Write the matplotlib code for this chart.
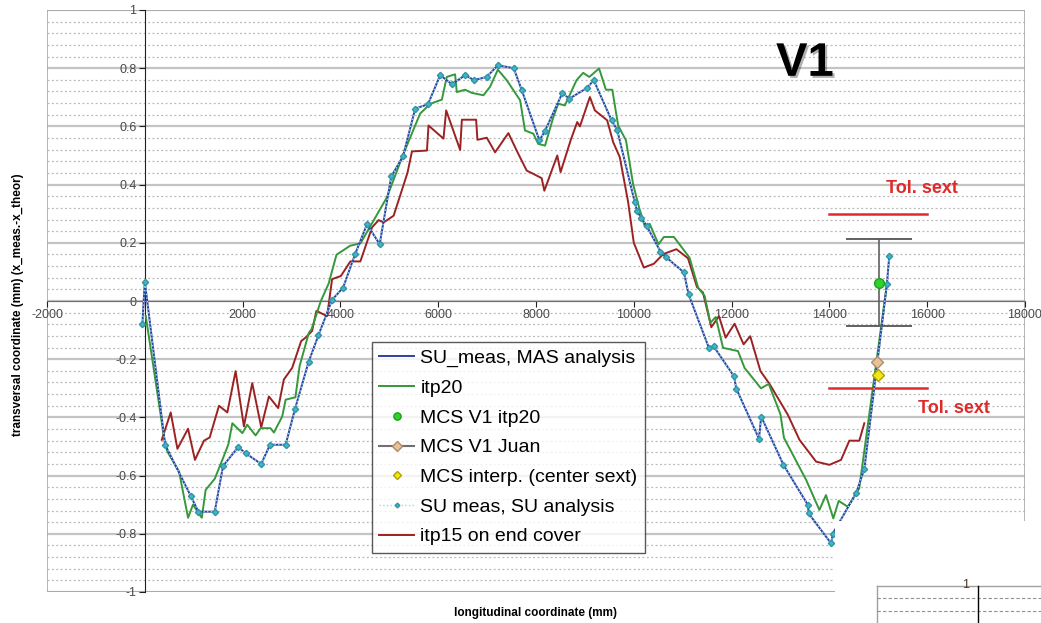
import matplotlib
matplotlib.use("Agg")
import matplotlib.pyplot as plt
import matplotlib.patches as mpatches
import matplotlib.lines as mlines
import matplotlib.patheffects as pe

plt.rcParams['font.family'] = ['Liberation Sans', 'DejaVu Sans']

# SU measurement (MAS analysis line + SU analysis markers share the points)
su_x = [-50, 0, 415, 940, 1095, 1430, 1600, 1910, 2060, 2380, 2560, 2880, 3070, 3350, 3550, 3830,
        4055, 4306, 4544, 4803, 5040, 5280, 5530, 5790, 6040, 6280, 6550, 6735, 6990, 7220, 7545,
        7710, 8070, 8180, 8540, 8680, 9050, 9180, 9545, 9660, 10020, 10070, 10155, 10260, 10545,
        10650, 11025, 11120, 11540, 11630, 12050, 12095, 12560, 12605, 13060, 13560, 13575, 14035,
        14070, 14545, 14715, 15175, 15225]
su_y = [-0.08, 0.067, -0.494, -0.67, -0.724, -0.724, -0.567, -0.502, -0.523, -0.56, -0.494, -0.494,
        -0.372, -0.209, -0.118, 0.004, 0.046, 0.163, 0.264, 0.195, 0.428, 0.497, 0.661, 0.676, 0.776,
        0.745, 0.776, 0.759, 0.77, 0.81, 0.80, 0.724, 0.552, 0.583, 0.715, 0.695, 0.733, 0.759, 0.621,
        0.588, 0.339, 0.308, 0.285, 0.259, 0.17, 0.152, 0.098, 0.023, -0.163, -0.155, -0.259, -0.301,
        -0.473, -0.397, -0.563, -0.701, -0.73, -0.833, -0.799, -0.661, -0.577, 0.057, 0.155]

# itp20
itp20_x = [20, 395, 460, 700, 885, 985, 1165, 1245, 1430, 1600, 1710, 1790, 1995, 2095, 2265, 2370,
           2570, 2640, 2810, 2880, 3080, 3165, 3355, 3410, 3600, 3760, 3920, 4200, 4410, 4950, 5290,
           5630, 5840, 6075, 6175, 6345, 6380, 6550, 6690, 6925, 7060, 7220, 7400, 7675, 7775, 7945,
           8045, 8185, 8355, 8455, 8590, 8830, 8965, 9090, 9290, 9430, 9560, 9680, 9840, 9985, 10110,
           10225, 10325, 10505, 10615, 10820, 11140, 11315, 11450, 11565, 11675, 11825, 12130, 12265,
           12600, 12760, 13000, 13070, 13525, 13795, 13930, 14080, 14190, 14375, 14610, 15175]
itp20_y = [-0.052, -0.47, -0.517, -0.586, -0.745, -0.70, -0.745, -0.649, -0.611, -0.54, -0.492, -0.42,
           -0.454, -0.425, -0.462, -0.437, -0.437, -0.452, -0.397, -0.339, -0.331, -0.224, -0.109,
           -0.097, 0.0, 0.06, 0.159, 0.19, 0.198, 0.356, 0.506, 0.644, 0.678, 0.692, 0.77, 0.779,
           0.718, 0.726, 0.715, 0.707, 0.736, 0.795, 0.759, 0.69, 0.586, 0.575, 0.54, 0.534, 0.632,
           0.678, 0.672, 0.759, 0.784, 0.77, 0.799, 0.726, 0.726, 0.603, 0.552, 0.402, 0.32, 0.256,
           0.265, 0.195, 0.22, 0.22, 0.149, 0.046, 0.017, -0.075, -0.055, -0.161, -0.172, -0.23,
           -0.30, -0.285, -0.39, -0.47, -0.615, -0.718, -0.667, -0.747, -0.687, -0.707, -0.644, 0.057]

# itp15 on end cover
itp15_x = [347, 530, 667, 884, 1026, 1210, 1327, 1517, 1688, 1857, 2027, 2197, 2381, 2537, 2728, 2843,
           3013, 3197, 3286, 3421, 3510, 3728, 3830, 4010, 4204, 4408, 4647, 4782, 4884, 5088, 5210,
           5374, 5463, 5770, 5802, 6108, 6163, 6449, 6484, 6776, 6802, 6994, 7163, 7435, 7605, 7810,
           7945, 8116, 8170, 8435, 8503, 8708, 8843, 8898, 9102, 9204, 9455, 9578, 9714, 9884, 10000,
           10204, 10410, 10600, 10871, 11108, 11292, 11415, 11585, 11741, 11878, 12061, 12245, 12381,
           12590, 12776, 12900, 13150, 13388, 13728, 14000, 14238, 14408, 14612, 14714]
itp15_y = [-0.477, -0.383, -0.508, -0.439, -0.546, -0.48, -0.469, -0.36, -0.383, -0.241, -0.431,
           -0.282, -0.434, -0.328, -0.368, -0.27, -0.23, -0.138, -0.126, -0.103, -0.034, -0.052, 0.075,
           0.086, 0.136, 0.136, 0.253, 0.278, 0.27, 0.293, 0.356, 0.442, 0.514, 0.517, 0.603, 0.558,
           0.655, 0.519, 0.623, 0.623, 0.554, 0.561, 0.511, 0.577, 0.517, 0.448, 0.437, 0.422, 0.379,
           0.5, 0.443, 0.552, 0.615, 0.6, 0.701, 0.655, 0.621, 0.546, 0.494, 0.34, 0.2, 0.115, 0.128,
           0.161, 0.178, 0.147, 0.048, 0.029, -0.09, -0.052, -0.126, -0.078, -0.149, -0.121, -0.241,
           -0.285, -0.32, -0.391, -0.477, -0.552, -0.563, -0.546, -0.48, -0.48, -0.42]

# MCS points
mcs_itp20 = (15010, 0.063)
mcs_itp20_err = 0.15
mcs_juan = (14980, -0.21)
mcs_interp = (15000, -0.255)

# tolerance of the sextupole
tol_x = [14000, 16000]
tol = 0.30

fig = plt.figure(figsize=(10.41, 6.23), dpi=100)
ax = fig.add_axes([47/1041, 31/623, 978/1041, 582/623])

ax.set_xlim(-2000, 18000)
ax.set_ylim(-1, 1)

# grid: major solid every 0.2, minor dotted every 0.04
for v in [-1 + 0.2*i for i in range(11)]:
    ax.axhline(v, color='#c4c4c4', lw=1.6, zorder=0)
for i in range(51):
    v = -1 + 0.04*i
    if i % 5:
        ax.axhline(v, color='#b8b8b8', lw=0.9, ls=(0, (1.5, 2)), zorder=0)

ax.add_patch(mpatches.Rectangle((0, 0), 1, 1, transform=ax.transAxes, fill=False,
                                edgecolor='#a8a8a8', lw=1.2, zorder=1))

# series
ax.plot(itp15_x, itp15_y, color='#9b2222', lw=1.4, zorder=3, label='itp15 on end cover')
ax.plot(itp20_x, itp20_y, color='#35983a', lw=1.4, zorder=3, label='itp20')
ax.plot(su_x, su_y, color='#2f3f9f', lw=1.4, zorder=4, label='SU_meas, MAS analysis')
ax.plot(su_x, su_y, color='#8fe3ee', lw=1.0, ls=':', marker='D', ms=3.2,
        mfc='#45b5c5', mec='#2f95a8', zorder=5, label='SU meas, SU analysis')

ax.errorbar(mcs_itp20[0], mcs_itp20[1], yerr=mcs_itp20_err, fmt='none', ecolor='#606060',
            elinewidth=1.2, capsize=24, capthick=1.4, zorder=5)
ax.plot(*mcs_itp20, 'o', ms=7, mfc='#2fd12f', mec='#1f9f1f', zorder=6, label='MCS V1 itp20')
ax.plot(*mcs_juan, marker='D', ms=6.5, color='#707070', mfc='#e8c09a', mec='#b08a6a',
        zorder=6, label='MCS V1 Juan')
ax.plot(*mcs_interp, 'D', ms=6, mfc='#f2e811', mec='#b0a000', zorder=6,
        label='MCS interp. (center sext)')

ax.plot(tol_x, [tol, tol], color='#e02a2a', lw=1.8, zorder=4)
ax.plot(tol_x, [-tol, -tol], color='#e02a2a', lw=1.8, zorder=4)
ax.text(15900, 0.385, 'Tol. sext', color='#e02a2a', fontsize=13, fontweight='bold',
        ha='center', va='center')
ax.text(16550, -0.37, 'Tol. sext', color='#e02a2a', fontsize=13, fontweight='bold',
        ha='center', va='center')
ax.text(13500, 0.815, 'V1', color='black', fontsize=34, fontweight='bold', ha='center',
        va='center', path_effects=[pe.withSimplePatchShadow(offset=(1.5, -1.5), alpha=0.3)])

# axes crossing at zero
for s in ['top', 'right']:
    ax.spines[s].set_visible(False)
ax.spines['left'].set_position(('data', 0))
ax.spines['bottom'].set_position(('data', 0))
ax.spines['left'].set_color('#202020')
ax.spines['bottom'].set_color('#707070')
ax.spines['left'].set_zorder(2)
ax.spines['bottom'].set_zorder(2)

xt = list(range(-2000, 18001, 2000))
ax.set_xticks(xt)
ax.set_xticklabels(['' if v == 0 else str(v) for v in xt])
yt = [-1, -0.8, -0.6, -0.4, -0.2, 0, 0.2, 0.4, 0.6, 0.8, 1]
ax.set_yticks(yt)
ax.set_yticklabels([('%g' % v) for v in yt])
ax.tick_params(axis='both', direction='out', length=4, labelsize=9, colors='#202020',
               labelcolor='#4a4a4a', pad=2)

fig.text(535/1041, 1 - 613/623, 'longitudinal coordinate (mm)', ha='center', va='center',
         fontsize=8.5, fontweight='bold')
fig.text(18/1041, 1 - 305/623, 'transversal coordinate (mm) (x_meas.-x_theor)', ha='center',
         va='center', rotation=90, fontsize=8.5, fontweight='bold')

# legend
h = {l.get_label(): l for l in ax.get_lines()}
order = ['SU_meas, MAS analysis', 'itp20', 'MCS V1 itp20', 'MCS V1 Juan',
         'MCS interp. (center sext)', 'SU meas, SU analysis', 'itp15 on end cover']
leg = ax.legend([h[k] for k in order], order, loc='upper left', bbox_to_anchor=(0.332, 0.43),
                borderaxespad=0, fontsize=14, frameon=True, fancybox=False, handlelength=1.8,
                handletextpad=0.3, labelspacing=0.62, borderpad=0.4, markerscale=0.75)
leg.get_frame().set_edgecolor('#303030')
leg.get_frame().set_linewidth(1.0)
leg.set_zorder(8)

# white patch and small chart fragment in the lower right corner of the screenshot
fig.add_artist(mpatches.Rectangle((835/1041, 0), 206/1041, 102/623, transform=fig.transFigure,
                                  facecolor='white', edgecolor='none', zorder=20))
fig.add_artist(mlines.Line2D([877/1041, 1], [1 - 586/623] * 2, transform=fig.transFigure,
                             color='#a0a0a0', lw=1, zorder=21))
fig.add_artist(mlines.Line2D([877/1041] * 2, [0, 1 - 586/623], transform=fig.transFigure,
                             color='#a0a0a0', lw=1, zorder=21))
for yy in [598, 611]:
    fig.add_artist(mlines.Line2D([877/1041, 1], [1 - yy/623] * 2, transform=fig.transFigure,
                                 color='#909090', lw=0.8, ls=(0, (3, 2)), zorder=21))
fig.add_artist(mlines.Line2D([978/1041] * 2, [0, 1 - 586/623], transform=fig.transFigure,
                             color='black', lw=1, zorder=21))
fig.text(966/1041, 1 - 585/623, '1', fontsize=9, ha='center', va='center', color='#4a3a20',
         zorder=22)

fig.savefig('out.png', dpi=100)
